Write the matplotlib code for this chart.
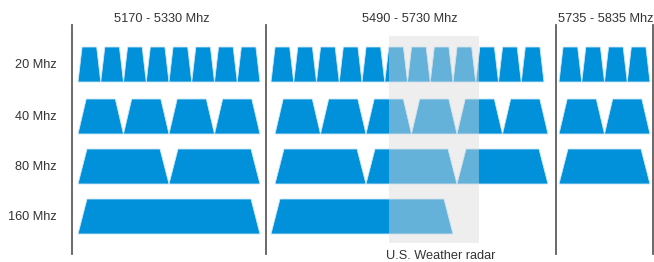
import matplotlib
matplotlib.use("Agg")
import matplotlib.pyplot as plt
from matplotlib.patches import Polygon, Rectangle

# --- data ---
band_labels = ["5170 - 5330 Mhz", "5490 - 5730 Mhz", "5735 - 5835 Mhz"]
band_slots = [8, 12, 4]          # number of 20 MHz channels drawn in each band
widths_mhz = [20, 40, 80, 160]
row_labels = ["20 Mhz", "40 Mhz", "80 Mhz", "160 Mhz"]
radar_label = "U.S. Weather radar"
radar_slots = (5, 9)             # slot range in band 2 covered by the radar zone

# --- layout (pixels) ---
W, H = 654, 262
SLOT = 22.75
band_x0 = [78, 271, 559]
band_line = [72, 266, 556, 653]
row_top = [47, 99, 149, 199]
ROW_H = 35
row_shift = {(1, 1): 4, (1, 2): 4}   # the drawing is slightly off in band 2
BLUE = "#0091da"
EDGE = "#cfe7f6"
TXT = "#333333"

plt.rcParams["font.family"] = ["Liberation Sans", "DejaVu Sans"]
fig = plt.figure(figsize=(W / 100, H / 100), dpi=100)
ax = fig.add_axes([0, 0, 1, 1])
ax.set_xlim(0, W)
ax.set_ylim(H, 0)
ax.axis("off")

# channels
for b, nslots in enumerate(band_slots):
    for r, wm in enumerate(widths_mhz):
        span = wm // 20
        n = nslots // span
        w = span * SLOT
        inset = min(0.18 * w, 9)
        top, bot = row_top[r], row_top[r] + ROW_H
        start = band_x0[b] + row_shift.get((b, r), 0)
        for k in range(n):
            x0 = start + k * w
            pts = [(x0, bot), (x0 + inset, top), (x0 + w - inset, top), (x0 + w, bot)]
            ax.add_patch(Polygon(pts, closed=True, facecolor=BLUE, edgecolor=EDGE,
                                 linewidth=0.6, zorder=2))

# weather radar overlay
rx0 = band_x0[1] + radar_slots[0] * SLOT + 4
rx1 = band_x0[1] + radar_slots[1] * SLOT + 3
ax.add_patch(Rectangle((rx0, 36), rx1 - rx0, 207, facecolor="#dbdbdb",
                       alpha=0.46, edgecolor="none", zorder=3))
ax.text(441, 256, radar_label, ha="center", va="center",
        fontsize=9.2, color=TXT)

# band separators
for x in band_line:
    ax.plot([x, x], [25, 254], color="#5e5e5e", linewidth=1.3, zorder=4)

# band headers
header_x = [162, 410, 558]
header_ha = ["center", "center", "left"]
for lab, x, ha in zip(band_labels, header_x, header_ha):
    ax.text(x, 19, lab, ha=ha, va="center", fontsize=9.2, color=TXT)

# row labels
for lab, top in zip(row_labels, row_top):
    ax.text(57, top + ROW_H / 2 + 1, lab, ha="right", va="center", fontsize=9.2, color=TXT)

fig.savefig("out.png", dpi=100, facecolor="white")
